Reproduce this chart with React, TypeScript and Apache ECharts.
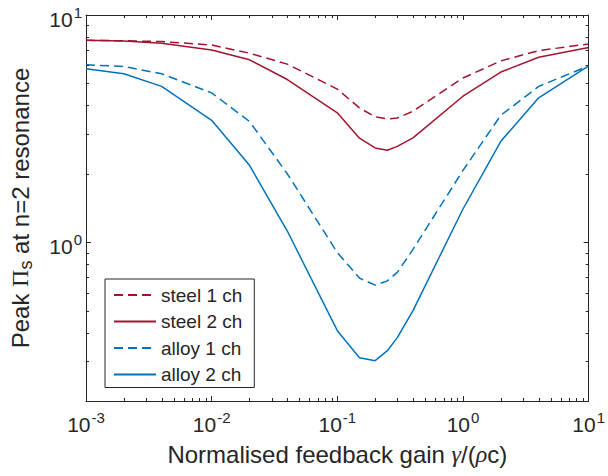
import React, { useEffect, useRef } from "react";
import * as echarts from "echarts";

const gain = [0.001, 0.002, 0.004, 0.01, 0.02, 0.04, 0.1, 0.15, 0.2, 0.25, 0.3, 0.4, 1, 2, 4, 10];
const steel1ch = [7.74, 7.7, 7.64, 7.38, 6.79, 6.08, 4.72, 3.9, 3.56, 3.49, 3.52, 3.77, 5.28, 6.28, 6.97, 7.46];
const steel2ch = [7.74, 7.69, 7.51, 7.02, 6.35, 5.2, 3.71, 2.87, 2.6, 2.54, 2.64, 2.88, 4.39, 5.61, 6.52, 7.19];
const alloy1ch = [6.04, 5.93, 5.51, 4.54, 3.4, 2.0, 0.9, 0.695, 0.647, 0.676, 0.736, 0.93, 2.07, 3.62, 4.85, 5.97];
const alloy2ch = [5.8, 5.51, 4.85, 3.44, 2.18, 1.12, 0.408, 0.31, 0.301, 0.333, 0.38, 0.5, 1.4, 2.78, 4.32, 5.97];

const seriesNames = ["steel 1 ch", "steel 2 ch", "alloy 1 ch", "alloy 2 ch"];
const xMin = 0.001;
const xMax = 10;
const yMin = 0.2;
const yMax = 10;
const xMinorTicks = [-3, -2, -1, 0].flatMap((k) => [2, 3, 4, 5, 6, 7, 8, 9].map((m) => m * Math.pow(10, k)));
const yMinorTicks = [0.3, 0.4, 0.5, 0.6, 0.7, 0.8, 0.9, 2, 3, 4, 5, 6, 7, 8, 9];

const RED = "#A2142F";
const BLUE = "#0072BD";
const INK = "#262626";
const FONT = "'Liberation Sans', Arial, Helvetica, sans-serif";

const pow10Label = (v: number) => {
  const l = Math.log10(v);
  const e = Math.round(l);
  if (Math.abs(l - e) > 1e-6) return "";
  return `{b|10}{s|${e}}`;
};

const tickRich = {
  b: { fontSize: 21, fontFamily: FONT, color: INK, padding: [8, 0, 0, 0] },
  s: { fontSize: 15, fontFamily: FONT, color: INK, padding: [0, 0, 6, 1] },
};

export default function App() {
  const ref = useRef<HTMLDivElement>(null);
  useEffect(() => {
    if (!ref.current) return;
    const chart = echarts.init(ref.current, undefined, { renderer: "svg" });
    const pair = (ys: number[]) => gain.map((g, i) => [g, ys[i]]);
    const lineSeries = (name: string, ys: number[], color: string, dashed: boolean) => ({
      name,
      type: "line",
      data: pair(ys),
      showSymbol: false,
      symbol: "none",
      color,
      lineStyle: { color, width: 1.5, type: dashed ? [9, 5] : "solid" },
      z: 3,
    });
    const minorData = [
      ...xMinorTicks.map((v) => [v, 1, 0]),
      ...yMinorTicks.map((v) => [0.01, v, 1]),
    ];
    const axisCommon = {
      axisLine: { show: true, onZero: false, lineStyle: { color: INK, width: 1 } },
      axisTick: { show: true, inside: true, length: 5, lineStyle: { color: INK } },
      splitLine: { show: false },
      minorTick: { show: false },
    };
    chart.setOption({
      animation: false,
      backgroundColor: "#fff",
      textStyle: { fontFamily: FONT },
      grid: { left: 86, right: 16, top: 15, bottom: 75, containLabel: false },
      legend: {
        data: seriesNames,
        orient: "vertical",
        left: 105,
        top: 279,
        itemWidth: 42,
        itemHeight: 14,
        itemGap: 6.5,
        padding: [6, 12, 3, 8],
        borderColor: INK,
        borderWidth: 1,
        borderRadius: 0,
        backgroundColor: "#fff",
        itemStyle: { opacity: 0 },
        textStyle: { fontSize: 19, color: INK, fontFamily: FONT, lineHeight: 20 },
      },
      xAxis: [
        {
          type: "log",
          logBase: 10,
          min: xMin,
          max: xMax,
          position: "bottom",
          ...axisCommon,
          axisLabel: { show: true, margin: 5, formatter: pow10Label, rich: tickRich },
          name: "Normalised feedback gain {g|γ}/({g|ρ}c)",
          nameLocation: "middle",
          nameGap: 41,
          nameTextStyle: {
            fontSize: 24,
            color: INK,
            fontFamily: FONT,
            rich: { g: { fontSize: 24, fontStyle: "italic", fontFamily: "'Liberation Serif', serif", color: INK } },
          },
        },
        {
          type: "log",
          logBase: 10,
          min: xMin,
          max: xMax,
          position: "top",
          ...axisCommon,
          axisLabel: { show: false },
        },
      ],
      yAxis: [
        {
          type: "log",
          logBase: 10,
          min: yMin,
          max: yMax,
          position: "left",
          ...axisCommon,
          axisLabel: { show: true, margin: 4, formatter: pow10Label, rich: tickRich },
          name: "Peak {p|Π}{sub|s} at n=2 resonance",
          nameLocation: "middle",
          nameGap: 51,
          nameTextStyle: {
            fontSize: 24,
            color: INK,
            fontFamily: FONT,
            rich: {
              p: { fontSize: 24, fontFamily: "'Liberation Serif', serif", color: INK },
              sub: { fontSize: 18, fontFamily: FONT, color: INK, padding: [12, 0, 0, 0] },
            },
          },
        },
        {
          type: "log",
          logBase: 10,
          min: yMin,
          max: yMax,
          position: "right",
          ...axisCommon,
          axisLabel: { show: false },
        },
      ],
      series: [
        lineSeries(seriesNames[0], steel1ch, RED, true),
        lineSeries(seriesNames[1], steel2ch, RED, false),
        lineSeries(seriesNames[2], alloy1ch, BLUE, true),
        lineSeries(seriesNames[3], alloy2ch, BLUE, false),
        {
          type: "custom",
          name: "minor ticks",
          silent: true,
          clip: false,
          z: 4,
          data: minorData,
          renderItem: (params: any, api: any) => {
            const cs = params.coordSys;
            const kind = api.value(2);
            const p = api.coord([api.value(0), api.value(1)]);
            const style = { stroke: INK, lineWidth: 1 };
            const L = 3;
            if (kind === 0) {
              const x = Math.round(p[0]) + 0.5;
              return {
                type: "group",
                children: [
                  { type: "line", shape: { x1: x, y1: cs.y + cs.height, x2: x, y2: cs.y + cs.height - L }, style },
                  { type: "line", shape: { x1: x, y1: cs.y, x2: x, y2: cs.y + L }, style },
                ],
              };
            }
            const y = Math.round(p[1]) + 0.5;
            return {
              type: "group",
              children: [
                { type: "line", shape: { x1: cs.x, y1: y, x2: cs.x + L, y2: y }, style },
                { type: "line", shape: { x1: cs.x + cs.width, y1: y, x2: cs.x + cs.width - L, y2: y }, style },
              ],
            };
          },
        },
      ],
    });
    return () => chart.dispose();
  }, []);
  return (
    <div
      ref={ref}
      style={{ position: "fixed", left: 0, top: 0, width: 608, height: 476, background: "#fff" }}
    />
  );
}
